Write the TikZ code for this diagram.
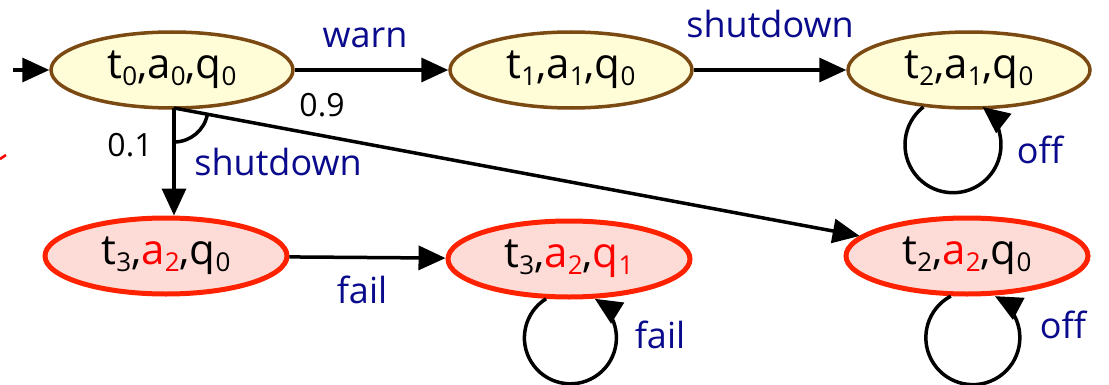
\documentclass[tikz,border=0pt]{standalone}
\usepackage{fontspec}
\setmainfont{Open Sans}
\usetikzlibrary{shapes.geometric,arrows.meta}
\definecolor{brownb}{HTML}{7B4A12}
\definecolor{yelf}{HTML}{FFFCD8}
\definecolor{redb}{HTML}{FF2200}
\definecolor{redf}{HTML}{FDDCD7}
\definecolor{navy}{HTML}{0A0A8C}
\definecolor{redt}{HTML}{FF0000}
\newcommand{\sbs}[1]{\raisebox{-0.3ex}{\fontsize{26}{26}\selectfont #1}}
\begin{document}
\begin{tikzpicture}[x=1pt,y=1pt,
  state/.style={ellipse, minimum width=242pt, minimum height=76pt, inner sep=0pt,
    font=\fontsize{42}{42}\selectfont},
  okstate/.style={state, draw=brownb, fill=yelf, line width=3.5pt},
  badstate/.style={state, draw=redb, fill=redf, line width=5pt},
  arr/.style={-{Triangle[length=27pt,width=24pt]}, line width=3.5pt, black},
  lbl/.style={font=\fontsize{36}{36}\selectfont, text=navy, inner sep=0pt},
  prob/.style={font=\fontsize{32}{32}\selectfont, text=black, inner sep=0pt}]
\useasboundingbox (0,0) rectangle (1109,384);
\node[okstate] (n1) at (172,314) {t\sbs{0},a\sbs{0},q\sbs{0}};
\node[okstate] (n2) at (571,314) {t\sbs{1},a\sbs{1},q\sbs{0}};
\node[okstate] (n3) at (969,314) {t\sbs{2},a\sbs{1},q\sbs{0}};
\node[badstate] (n4) at (166,128) {t\sbs{3},\textcolor{redt}{a\sbs{2}},q\sbs{0}};
\node[badstate] (n5) at (569,125) {t\sbs{3},\textcolor{redt}{a\sbs{2}},\textcolor{redt}{q\sbs{1}}};
\node[badstate] (n6) at (967,128) {t\sbs{2},\textcolor{redt}{a\sbs{2}},q\sbs{0}};
\coordinate (init) at (13,314);
\coordinate (b) at (174,276);
\draw[arr] (init) -- (n1);
\draw[arr] (n1) -- (n2);
\draw[arr] (n2) -- (n3);
\draw[arr] (b) -- (b |- n4.north);
\draw[arr] (b) -- (n6);
\draw[line width=3.5pt] (b) ++(-90:34) arc[start angle=-90, end angle=-10.4, radius=34];
\draw[arr] (n4) -- (n5);
\draw[arr] (n3.219) arc[start angle=128, end angle=412, radius=48];
\draw[arr] (n5.240) arc[start angle=122, end angle=418, radius=46];
\draw[arr] (n6.248) arc[start angle=118, end angle=422, radius=47];
\node[lbl] (lwarn) at (365,346) {warn};
\node[lbl] (lshut1) at (770,360) {shutdown};
\node[lbl] (lshut2) at (278,222) {shutdown};
\node[prob] (p9) at (322,279) {0.9};
\node[prob] (p1) at (130,239) {0.1};
\node[lbl] (lfail1) at (362,94) {fail};
\node[lbl] (loff1) at (1040,234) {off};
\node[lbl] (lfail2) at (660,49) {fail};
\node[lbl] (loff2) at (1063,59) {off};
\draw[redt, line width=2.5pt] (0,225) -- (6,229);
\end{tikzpicture}
\end{document}
